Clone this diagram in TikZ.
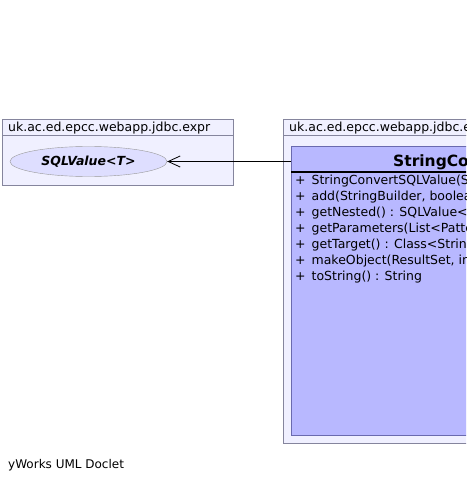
\documentclass[tikz,border=0pt]{standalone}
\usepackage{fontspec}
\setmainfont{DejaVu Sans}
\usetikzlibrary{shapes.geometric, positioning, arrows.meta}

\begin{document}
\begin{tikzpicture}[x=1pt, y=-1pt,
    pkgtab/.style={draw=black!40!blue!20!gray!80, fill=blue!6, rectangle, anchor=north west, inner ysep=0pt, inner xsep=6pt, minimum height=16pt, text depth=0pt, font=\fontsize{12.5}{15}\selectfont, align=left},
    pkgbody/.style={draw=black!40!blue!20!gray!80, fill=blue!6, rectangle, inner sep=0pt},
    iface/.style={draw=gray!80, fill=blue!13, ellipse, minimum width=157pt, minimum height=30pt, inner sep=0pt, font=\fontsize{12.5}{15}\selectfont\bfseries\itshape},
    classbox/.style={draw=blue!30!gray!90, fill=blue!28, rectangle, inner sep=0pt, anchor=north west},
    arrow/.style={-{Straight Barb[open, length=12pt, width=11pt]}, line width=0.8pt, black}
]
\clip (0,0) rectangle (466,481);
\useasboundingbox (0,0) rectangle (466,481);
% package uk.ac.ed.epcc.webapp.jdbc.expr
\node[pkgtab, minimum width=231pt, text width=219pt] (exprtab) at (2,119) {uk.ac.ed.epcc.webapp.jdbc.expr};
\node[pkgbody, minimum width=231pt, minimum height=50pt, below=0pt of exprtab] (exprbody) {};
\node[iface] (sqlvalue) at (88.5,161.5) {SQLValue<T>};
% second package (runs off the page)
\node[pkgtab, minimum width=420pt, text width=408pt] (jdbctab) at (283,119) {uk.ac.ed.epcc.webapp.jdbc.expr};
\node[pkgbody, minimum width=420pt, minimum height=308pt, below=0pt of jdbctab] (jdbcbody) {};
% class StringConvertSQLValue
\node[classbox, minimum width=400pt, minimum height=289pt] (stringconv) at (291,146) {};
\node[anchor=base west, inner sep=0pt, font=\fontsize{15.5}{18}\selectfont\bfseries] (convtitle) at (393,166) {StringConvertSQLValue};
\draw[line width=1.6pt, black] (291,172) -- (691,172);
\node[anchor=north west, inner sep=0pt, align=left, font=\fontsize{12.5}{16}\selectfont] (convmethods) at (295,175) {%
+\hspace{2pt} StringConvertSQLValue(SQLValue<T>)\\
+\hspace{2pt} add(StringBuilder, boolean) : boolean\\
+\hspace{2pt} getNested() : SQLValue<T>\\
+\hspace{2pt} getParameters(List<PatternArgument>) : List<PatternArgument>\\
+\hspace{2pt} getTarget() : Class<String>\\
+\hspace{2pt} makeObject(ResultSet, int) : String\\
+\hspace{2pt} toString() : String};
\draw[arrow] (sqlvalue.east -| stringconv.west) -- (sqlvalue.east);
\node[anchor=base west, inner sep=0pt, font=\fontsize{12}{14}\selectfont] (doclet) at (8,468) {yWorks UML Doclet};
\end{tikzpicture}
\end{document}
